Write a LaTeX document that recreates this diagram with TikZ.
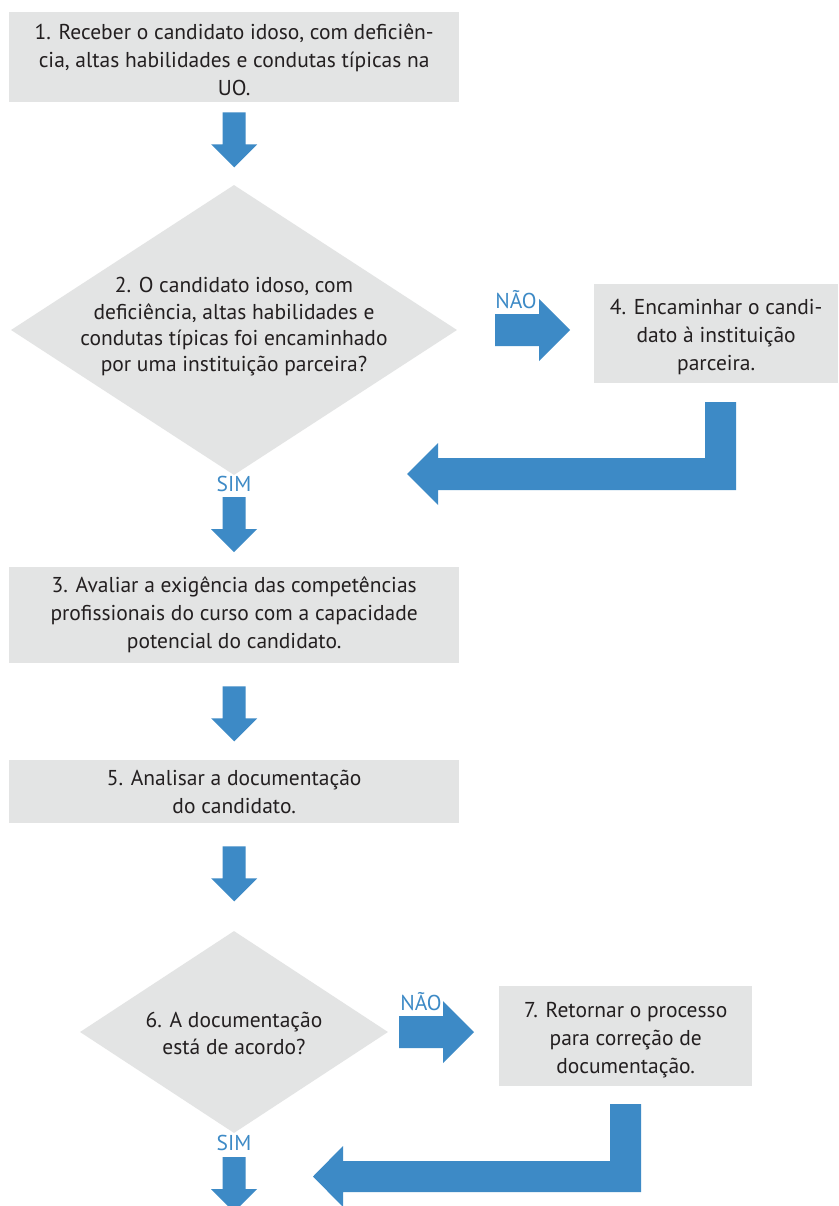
\documentclass[tikz,border=0pt]{standalone}
\usepackage{fontspec}
\setmainfont{PT Sans}
\usetikzlibrary{shapes.geometric,calc}
\definecolor{boxgray}{RGB}{227,228,228}
\definecolor{arrblue}{RGB}{61,138,198}
\definecolor{txt}{RGB}{35,31,32}
\begin{document}
\begin{tikzpicture}[x=1pt,y=-1pt,
  stepbox/.style={rectangle,fill=boxgray,inner sep=0pt,anchor=north west},
  decbox/.style={diamond,fill=boxgray,inner sep=0pt,aspect=1},
  lbl/.style={text=txt,align=center,inner sep=0pt,font=\fontsize{21.5}{28}\selectfont},
  dlbl/.style={text=txt,align=center,inner sep=0pt,font=\fontsize{21.5}{26.3}\selectfont},
  yn/.style={text=arrblue,inner sep=0pt,font=\fontsize{21.5}{22}\selectfont},
  blk/.style={fill=arrblue},
  darr/.pic={\fill[blk] (-11.5,0) -- (11.5,0) -- (11.5,32) -- (23,32) -- (0,55) -- (-23,32) -- (-11.5,32) -- cycle;},
  rarr/.pic={\fill[blk] (0,-16) -- (44,-16) -- (44,-31) -- (75,0) -- (44,31) -- (44,16) -- (0,16) -- cycle;}
]
\useasboundingbox (0,0) rectangle (838,1206);
\fill[white] (0,0) rectangle (838,1206);

% boxes
\node[stepbox,minimum width=450pt,minimum height=90pt] (b1) at (9,12) {};
\node[lbl] (t1) at ($(b1.center)+(0,3)$) {1. Receber o candidato idoso, com deficiên-\\cia, altas habilidades e condutas típicas na\\UO.};

\node[decbox,minimum width=446pt,minimum height=290pt] (d2) at (234,330) {};
\node[dlbl] (t2) at ($(d2.center)+(0,-3)$) {2. O candidato idoso, com\\deficiência, altas habilidades e\\condutas típicas foi encaminhado\\por uma instituição parceira?};

\node[stepbox,minimum width=244pt,minimum height=99pt] (b4) at (594,284) {};
\node[lbl] (t4) at ($(b4.center)+(0,3)$) {4. Encaminhar o candi-\\dato à instituição\\parceira.};

\node[stepbox,minimum width=450pt,minimum height=96pt] (b3) at (9,567) {};
\node[lbl] (t3) at ($(b3.center)+(0,0)$) {3. Avaliar a exigência das competências\\profissionais do curso com a capacidade\\potencial do candidato.};

\node[stepbox,minimum width=450pt,minimum height=63pt] (b5) at (9,760) {};
\node[lbl] (t5) at ($(b5.center)+(0,0)$) {5. Analisar a documentação\\do candidato.};

\node[decbox,minimum width=308pt,minimum height=202pt] (d6) at (234,1032) {};
\node[lbl,font=\fontsize{21.5}{27}\selectfont] (t6) at ($(d6.center)+(0,1)$) {6. A documentação\\está de acordo?};

\node[stepbox,minimum width=253pt,minimum height=100pt] (b7) at (499,986) {};
\node[lbl] (t7) at ($(b7.center)+(0,4)$) {7. Retornar o processo\\para correção de\\documentação.};

% down arrows
\pic at ($(b1.south)+(0,10)$) {darr};
\node[yn] (sim1) at ($(d2.south)+(0,9)$) {SIM};
\pic at ($(d2.south)+(0,22)$) {darr};
\pic at ($(b3.south)+(0,23)$) {darr};
\pic at ($(b5.south)+(0,23)$) {darr};
\node[yn] (sim2) at ($(d6.south)+(0,10)$) {SIM};
\pic at ($(d6.south)+(0,24)$) {darr};

% right arrows
\node[yn] (nao1) at (516,300) {NÃO};
\pic at (495,330) {rarr};
\node[yn] (nao2) at (421,1002) {NÃO};
\pic at (399,1032) {rarr};

% return arrows
\coordinate (r1a) at (705,402);
\coordinate (r1tip) at (407,474);
\fill[blk] (r1a) -- (736,402) -- (736,490) -- (438,490) -- (438,505) -- (r1tip) -- (438,443) -- (438,458) -- (705,458) -- cycle;
\coordinate (r2a) at (610,1104);
\coordinate (r2tip) at (313,1176.5);
\fill[blk] (r2a) -- (641,1104) -- (641,1192) -- (343,1192) -- (343,1207) -- (r2tip) -- (343,1146) -- (343,1161) -- (610,1161) -- cycle;
\end{tikzpicture}
\end{document}
